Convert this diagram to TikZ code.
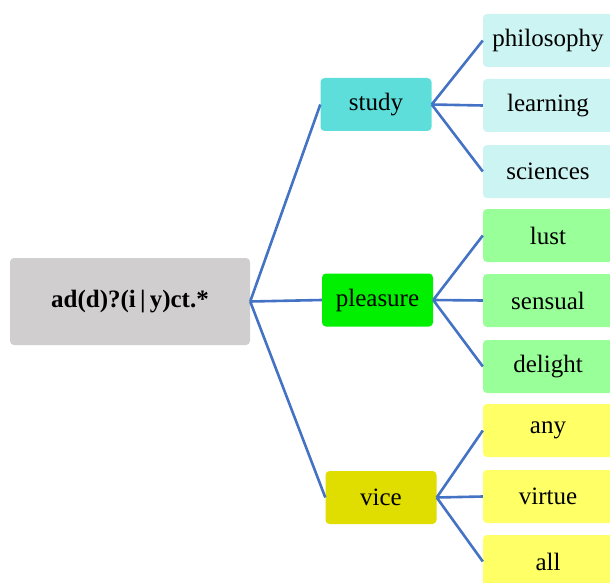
\documentclass[tikz,border=0pt]{standalone}
\usepackage{fontspec}
\setmainfont{Liberation Serif}
\usepackage{xcolor}
\definecolor{rootgray}{RGB}{208,206,206}
\definecolor{studyc}{RGB}{94,222,218}
\definecolor{studyl}{RGB}{204,244,243}
\definecolor{pleasc}{RGB}{0,240,0}
\definecolor{pleasl}{RGB}{153,255,153}
\definecolor{vicec}{RGB}{224,221,0}
\definecolor{vicel}{RGB}{255,255,102}
\definecolor{linkblue}{RGB}{68,114,196}
\tikzset{
	box/.style={rounded corners=4pt, inner sep=0pt, font=\rmfamily\fontsize{25}{30}\selectfont, text=black},
	branch/.style={box, minimum width=111pt, minimum height=53pt},
	leaf/.style={box, minimum width=130pt, minimum height=53pt},
	link/.style={draw=linkblue, line width=2.6pt}
}
\begin{document}
\begin{tikzpicture}[x=1pt,y=-1pt]
	\useasboundingbox (0,0) rectangle (610,583);
	\clip (0,0) rectangle (610,583);
	\node[box, fill=rootgray, minimum width=240pt, minimum height=87pt, font=\rmfamily\fontsize{25}{30}\selectfont\bfseries] (root) at (130,301.5) {ad(d)?(i\,|\,y)ct.*};
	\node[branch, fill=studyc] (study) at (376,104.5) {study};
	\node[branch, fill=pleasc] (pleasure) at (377.5,300) {pleasure};
	\node[branch, fill=vicec] (vice) at (381,497.5) {vice};
	% leaves
	\node[leaf, fill=studyl] (philosophy) at (548,40.5) {philosophy};
	\node[leaf, fill=studyl] (learning) at (548,105.5) {learning};
	\node[leaf, fill=studyl] (sciences) at (548,171.5) {sciences};
	\node[leaf, fill=pleasl] (lust) at (548,235.5) {lust};
	\node[leaf, fill=pleasl] (sensual) at (548,300.5) {sensual};
	\node[leaf, fill=pleasl] (delight) at (548,366.5) {delight};
	\node[leaf, fill=vicel] (any) at (548,430.5) {any};
	\node[leaf, fill=vicel] (virtue) at (548,496.5) {virtue};
	\node[leaf, fill=vicel] (all) at (548,561.5) {all};
	% links
	\foreach \c in {study,pleasure,vice}
		\draw[link] (root.east) -- (\c.west);
	\foreach \c in {philosophy,learning,sciences}
		\draw[link] (study.east) -- (\c.west);
	\foreach \c in {lust,sensual,delight}
		\draw[link] (pleasure.east) -- (\c.west);
	\foreach \c in {any,virtue,all}
		\draw[link] (vice.east) -- (\c.west);
\end{tikzpicture}
\end{document}
